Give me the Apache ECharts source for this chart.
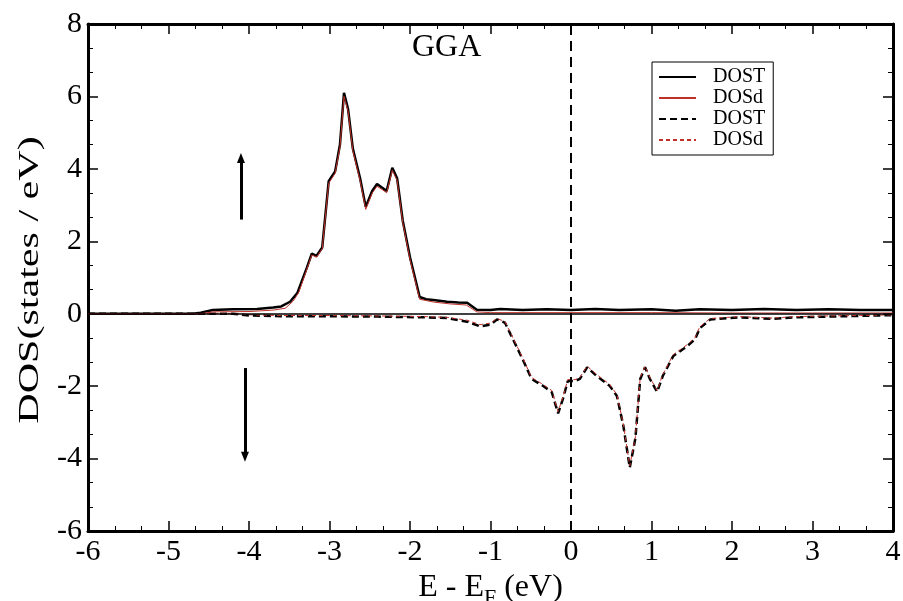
<!DOCTYPE html>
<html>
<head>
<meta charset="utf-8">
<script src="https://cdn.jsdelivr.net/npm/echarts@6/dist/echarts.min.js"></script>
<style>
  html, body { margin: 0; padding: 0; background: #fff; }
  #chart { width: 903px; height: 601px; }
</style>
</head>
<body>
<div id="chart"></div>
<script>
// x tick labels and y tick labels
const xTicks = [-6, -5, -4, -3, -2, -1, 0, 1, 2, 3, 4]
const yTicks = [-6, -4, -2, 0, 2, 4, 6, 8]

// spin up, total DOS  [E - EF, DOS]
const upTotal = [
  [-6, 0], [-4.7, 0], [-4.6, 0.03], [-4.45, 0.1], [-4.2, 0.12], [-3.9, 0.13], [-3.7, 0.17],
  [-3.6, 0.2], [-3.49, 0.33], [-3.4, 0.57], [-3.28, 1.28], [-3.22, 1.66], [-3.16, 1.6],
  [-3.09, 1.83], [-3.01, 3.66], [-2.93, 3.93], [-2.87, 4.67], [-2.82, 6.1], [-2.77, 5.66],
  [-2.71, 4.56], [-2.62, 3.74], [-2.55, 2.95], [-2.47, 3.39], [-2.41, 3.58], [-2.34, 3.47],
  [-2.29, 3.39], [-2.22, 4.03], [-2.16, 3.74], [-2.09, 2.57], [-2.0, 1.56], [-1.88, 0.46],
  [-1.8, 0.4], [-1.71, 0.38], [-1.54, 0.33], [-1.4, 0.31], [-1.29, 0.3], [-1.17, 0.11],
  [-1.0, 0.1], [-0.88, 0.13], [-0.6, 0.1], [-0.3, 0.12], [0, 0.1], [0.3, 0.13], [0.6, 0.1],
  [1, 0.12], [1.3, 0.08], [1.6, 0.12], [2, 0.1], [2.4, 0.13], [2.8, 0.1], [3.2, 0.12],
  [3.6, 0.1], [4, 0.1]
]
// spin up, d DOS
const upD = [
  [-6, 0], [-4.6, 0], [-4.45, 0.05], [-4.0, 0.06], [-3.7, 0.1], [-3.55, 0.15], [-3.45, 0.35],
  [-3.38, 0.6], [-3.27, 1.3], [-3.22, 1.62], [-3.16, 1.56], [-3.09, 1.8], [-3.01, 3.6],
  [-2.93, 3.88], [-2.87, 4.6], [-2.82, 6.0], [-2.77, 5.6], [-2.71, 4.5], [-2.62, 3.68],
  [-2.55, 2.88], [-2.47, 3.33], [-2.41, 3.52], [-2.34, 3.42], [-2.29, 3.34], [-2.22, 3.96],
  [-2.16, 3.68], [-2.09, 2.52], [-2.0, 1.5], [-1.88, 0.4], [-1.7, 0.32], [-1.5, 0.27],
  [-1.3, 0.24], [-1.17, 0.05], [-1, 0.03], [0, 0.03], [1, 0.03], [2, 0.02], [3, 0.02], [4, 0.02]
]
// spin down, total DOS
const dnTotal = [
  [-6, 0], [-4.2, 0], [-4.0, -0.05], [-3.6, -0.07], [-3.0, -0.07], [-2.4, -0.08], [-1.8, -0.1],
  [-1.54, -0.12], [-1.29, -0.22], [-1.13, -0.35], [-1.0, -0.3], [-0.92, -0.16], [-0.82, -0.25],
  [-0.72, -0.71], [-0.6, -1.26], [-0.49, -1.8], [-0.35, -1.99], [-0.24, -2.16], [-0.16, -2.75],
  [-0.1, -2.35], [-0.04, -1.86], [0.05, -1.86], [0.11, -1.8], [0.2, -1.48], [0.32, -1.72],
  [0.48, -1.99], [0.57, -2.27], [0.65, -3.09], [0.73, -4.25], [0.8, -3.44], [0.86, -1.8],
  [0.92, -1.48], [0.98, -1.8], [1.07, -2.16], [1.14, -1.72], [1.27, -1.17], [1.44, -0.9],
  [1.54, -0.71], [1.6, -0.4], [1.73, -0.16], [2.1, -0.1], [2.5, -0.14], [2.8, -0.1],
  [3.2, -0.08], [3.6, -0.06], [4, -0.04]
]
// spin down, d DOS
const dnD = [
  [-6, 0], [-4.2, 0], [-4.0, -0.03], [-3.6, -0.05], [-3.0, -0.05], [-2.4, -0.06], [-1.8, -0.08],
  [-1.54, -0.1], [-1.29, -0.18], [-1.13, -0.3], [-1.0, -0.26], [-0.92, -0.13], [-0.82, -0.22],
  [-0.72, -0.67], [-0.6, -1.22], [-0.49, -1.76], [-0.35, -1.95], [-0.24, -2.12], [-0.16, -2.7],
  [-0.1, -2.3], [-0.04, -1.82], [0.05, -1.82], [0.11, -1.76], [0.2, -1.45], [0.32, -1.68],
  [0.48, -1.95], [0.57, -2.23], [0.65, -3.05], [0.73, -4.2], [0.8, -3.4], [0.86, -1.76],
  [0.92, -1.45], [0.98, -1.76], [1.07, -2.12], [1.14, -1.68], [1.27, -1.13], [1.44, -0.86],
  [1.54, -0.67], [1.6, -0.36], [1.73, -0.13], [2.1, -0.08], [2.5, -0.12], [2.8, -0.08],
  [3.2, -0.06], [3.6, -0.05], [4, -0.03]
]
// spin arrows
const arrowUp = [[-4.1, 2.6], [-4.1, 4.3]]
const arrowDown = [[-4.05, -1.5], [-4.05, -3.95]]

const font = '"Liberation Serif", "Times New Roman", serif'
const chart = echarts.init(document.getElementById('chart'))

const tickStyle = { inside: true, length: 10, lineStyle: { color: '#000', width: 1.5 } }
const minorStyle = { show: true, splitNumber: 3, length: 5, lineStyle: { color: '#000', width: 1 } }
const frame = { show: true, onZero: false, lineStyle: { color: '#000', width: 3 } }

const option = {
  animation: false,
  backgroundColor: '#fff',
  grid: { left: 88, right: 10, top: 24, bottom: 70, outerBoundsMode: 'none', containLabel: false },
  graphic: [{
    type: 'text', left: 412, top: 32,
    style: { text: 'GGA', font: '32px ' + font, fill: '#000' }
  }, {
    // y axis title, stretched along its length like the source image
    type: 'text', x: 30, y: 280, rotation: Math.PI / 2, scaleX: 1.45,
    style: { text: 'DOS(states / eV)', font: '29px ' + font, fill: '#000', align: 'center', verticalAlign: 'middle' }
  }],
  legend: {
    data: ['DOST', 'DOSd', 'DOST ', 'DOSd '],
    orient: 'vertical',
    left: 652, top: 62,
    itemWidth: 37, itemHeight: 10, itemGap: 1,
    padding: [5, 8, 5, 6],
    borderColor: '#000', borderWidth: 1, borderRadius: 0,
    backgroundColor: '#fff',
    itemStyle: { opacity: 0 },
    formatter: (n) => n.trim(),
    textStyle: { fontFamily: font, fontSize: 20, color: '#000', lineHeight: 20, padding: [0, 0, 0, 12] }
  },
  xAxis: [{
    type: 'value', min: xTicks[0], max: xTicks[xTicks.length - 1], interval: 1,
    axisLine: frame, axisTick: tickStyle, minorTick: minorStyle, splitLine: { show: false },
    axisLabel: { fontFamily: font, fontSize: 30, color: '#000', margin: 6 },
    name: 'E - E{s|F} (eV)', nameLocation: 'middle', nameGap: 31,
    nameTextStyle: {
      fontFamily: font, fontSize: 32, color: '#000',
      rich: { s: { fontFamily: font, fontSize: 22, color: '#000', verticalAlign: 'bottom', padding: [20, 0, 0, 0] } }
    }
  }, {
    type: 'value', position: 'top', min: -6, max: 4, interval: 1,
    axisLine: frame, axisTick: tickStyle, minorTick: minorStyle, splitLine: { show: false },
    axisLabel: { show: false }
  }],
  yAxis: [{
    type: 'value', min: yTicks[0], max: yTicks[yTicks.length - 1], interval: 2,
    axisLine: frame, axisTick: tickStyle, minorTick: minorStyle, splitLine: { show: false },
    axisLabel: { fontFamily: font, fontSize: 30, color: '#000', margin: 6 }
  }, {
    type: 'value', position: 'right', min: -6, max: 8, interval: 2,
    axisLine: frame, axisTick: tickStyle, minorTick: minorStyle, splitLine: { show: false },
    axisLabel: { show: false }
  }],
  series: [
    {
      name: 'DOST ', type: 'line', data: dnTotal, symbol: 'none', z: 3,
      lineStyle: { color: '#000', width: 2.5, type: [7, 4] }, itemStyle: { color: '#000' }
    },
    {
      name: 'DOSd ', type: 'line', data: dnD, symbol: 'none', z: 4,
      lineStyle: { color: '#c0302a', width: 1, type: [4, 3] }, itemStyle: { color: '#c0302a' }
    },
    {
      name: 'DOST', type: 'line', data: upTotal, symbol: 'none', z: 3,
      lineStyle: { color: '#000', width: 2.5 }, itemStyle: { color: '#000' }
    },
    {
      name: 'DOSd', type: 'line', data: upD, symbol: 'none', z: 4,
      lineStyle: { color: '#c0302a', width: 1 }, itemStyle: { color: '#c0302a' }
    },
    {
      name: 'guides', type: 'line', data: [], z: 2,
      markLine: {
        silent: true, symbol: 'none', label: { show: false },
        data: [
          { yAxis: 0, lineStyle: { color: '#000', width: 1.5, type: 'solid' } },
          { xAxis: 0, lineStyle: { color: '#000', width: 2, type: [10, 6] } },
          [
            { coord: arrowUp[0], symbol: 'none' },
            { coord: arrowUp[1], symbol: 'triangle', symbolSize: [8, 10] }
          ],
          [
            { coord: arrowDown[0], symbol: 'none' },
            { coord: arrowDown[1], symbol: 'triangle', symbolSize: [8, 10] }
          ]
        ],
        lineStyle: { color: '#000', width: 3, type: 'solid' }
      }
    }
  ]
}
chart.setOption(option)
window.addEventListener('resize', () => {
  chart.resize()
})
</script>
</body>
</html>
